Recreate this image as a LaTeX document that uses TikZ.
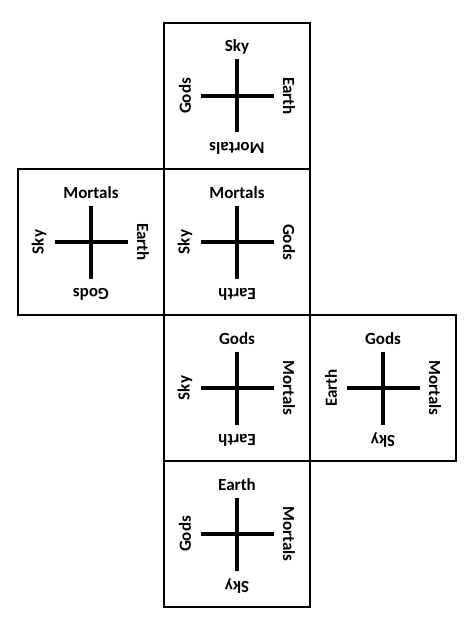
\documentclass[tikz,border=0pt]{standalone}
\usepackage{fontspec}
\setmainfont{Carlito}
\usetikzlibrary{positioning}

\begin{document}
\begin{tikzpicture}[
        x = 1pt, y = -1pt,
        node distance = 146pt,
        on grid,
        face/.style = {draw, line width = 1.3pt, minimum size = 146pt, inner sep = 0pt},
        arm/.style = {line width = 3.5pt},
        lbl/.style = {font = \fontsize{17}{17}\selectfont\bfseries, inner sep = 0pt}
    ]

    \useasboundingbox (0,0) rectangle (473,631);

      % the six faces of the net
      \node[face] (up) at (237,96) {};
      \node[face] (front) [below = of up] {};
      \node[face] (west) [left = of front] {};
      \node[face] (down) [below = of front] {};
      \node[face] (east) [right = of down] {};
      \node[face] (base) [below = of down] {};

      % cross and four directions on each face
      \foreach \f/\n/\w/\e/\s in {up/Sky/Gods/Earth/Mortals,
                                   front/Mortals/Sky/Gods/Earth,
                                   west/Mortals/Sky/Earth/Gods,
                                   down/Gods/Sky/Mortals/Earth,
                                   east/Gods/Earth/Mortals/Sky,
                                   base/Earth/Gods/Mortals/Sky} {
        \draw[arm] ([yshift = 36.5pt]\f.center) -- ([yshift = -36.5pt]\f.center);
        \draw[arm] ([xshift = -36.5pt]\f.center) -- ([xshift = 36.5pt]\f.center);
        \node[lbl] at ([yshift = 49pt]\f.center) {\n};
        \node[lbl, rotate = 90] at ([xshift = -52pt]\f.center) {\w};
        \node[lbl, rotate = -90] at ([xshift = 52pt]\f.center) {\e};
        \node[lbl, rotate = 180] at ([yshift = -52pt]\f.center) {\s};
      }

\end{tikzpicture}
\end{document}
